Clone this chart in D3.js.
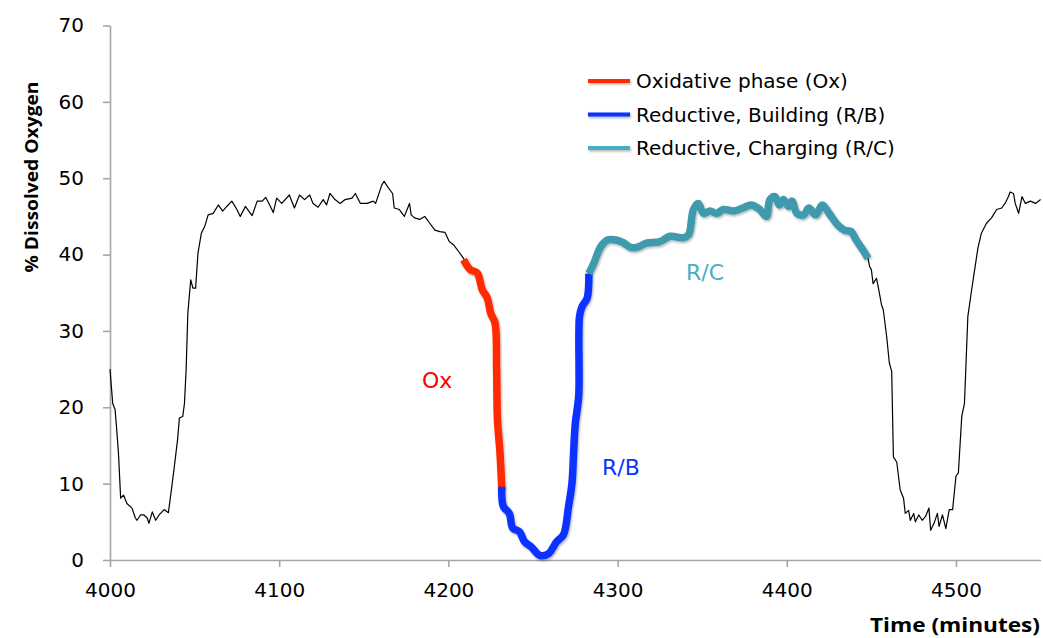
<!DOCTYPE html>
<html>
<head>
<meta charset="utf-8">
<script src="https://cdn.jsdelivr.net/npm/d3@7"></script>
<style>
  html, body { margin: 0; padding: 0; background: #ffffff; }
  svg { display: block; }
</style>
</head>
<body>
<div id="chart"></div>
<script>
// Dissolved oxygen trace over one metabolic cycle (minutes)
const timeMin = [
  4000, 4001.6, 4003, 4004, 4005, 4006.3, 4008, 4010, 4013, 4015, 4016, 4018, 4020, 4022, 4023, 4025, 4027, 4029, 4032, 4034.5,
  4036, 4038, 4040, 4041, 4043, 4044, 4045, 4046, 4047.7, 4049, 4050.6, 4052, 4054, 4056, 4058, 4061, 4064, 4066.6, 4069, 4072,
  4075, 4077, 4080, 4084, 4087, 4090, 4092, 4094.6, 4096.5, 4098.5, 4101.5, 4106, 4109, 4112, 4115, 4118, 4120, 4123, 4126, 4128,
  4130, 4133, 4136, 4139, 4143, 4145, 4148, 4152, 4155.6, 4157, 4160.6, 4162, 4164, 4167, 4168, 4171, 4174, 4177, 4178, 4180,
  4183, 4186, 4189, 4192, 4195, 4198, 4200.5, 4203, 4206, 4209,
  4210, 4213, 4217, 4220, 4223, 4225, 4227.5, 4228.5, 4229, 4230.5, 4231.5,
  4232.5, 4236, 4238, 4242, 4245, 4249, 4254, 4259, 4264, 4268, 4271, 4273, 4274, 4275, 4277, 4277.5, 4279, 4282, 4283,
  4286, 4290, 4294, 4299, 4303, 4308, 4312, 4317, 4325, 4331, 4339, 4342, 4344.8, 4347.7, 4350.7, 4354.6, 4358.6, 4362.5, 4368.5, 4374,
  4379, 4384, 4388, 4390, 4393, 4395.6, 4398, 4401, 4403, 4406, 4410, 4413, 4417, 4421, 4425, 4430, 4434, 4438, 4441, 4445, 4448,
  4449, 4450, 4451, 4453, 4454, 4456, 4457, 4459, 4460.6, 4462, 4463, 4465, 4467, 4469, 4470, 4472, 4473, 4475, 4476, 4478,
  4480, 4482, 4484, 4485, 4487, 4489, 4490, 4492, 4494, 4496, 4498, 4500, 4501.4, 4503.4, 4505, 4507, 4509, 4511, 4513, 4515,
  4518, 4521, 4524, 4527, 4529, 4531, 4532, 4534, 4535, 4537, 4539, 4541, 4544, 4547, 4550
];
const dissolvedO2 = [
  25.0, 20.5, 19.7, 17.0, 14.0, 8.1, 8.5, 7.4, 6.8, 5.5, 5.2, 5.9, 5.9, 5.5, 4.8, 6.3, 5.2, 5.9, 6.6, 6.2,
  8.7, 12.2, 15.9, 18.6, 18.8, 20.5, 24.9, 32.3, 36.7, 35.6, 35.6, 40.2, 42.8, 43.7, 45.2, 45.4, 46.5, 45.7, 46.3, 47.0,
  45.9, 45.0, 46.3, 45.1, 47.0, 47.0, 47.5, 46.4, 45.5, 47.4, 46.7, 47.8, 46.1, 47.8, 47.2, 47.8, 46.7, 46.2, 47.2, 46.5,
  48.0, 47.2, 46.7, 47.2, 47.4, 48.0, 46.7, 46.7, 47.0, 46.7, 49.1, 49.6, 48.9, 48.0, 46.1, 45.9, 45.0, 46.7, 45.2, 44.8,
  44.6, 45.0, 44.1, 43.2, 43.0, 42.9, 41.7, 41.3, 40.4, 39.5,
  38.9, 38.0, 37.6, 35.4, 34.3, 32.3, 31.1, 24.9, 18.4, 14.0, 9.6,
  7.0, 6.1, 4.2, 3.7, 2.4, 1.7, 0.6, 0.8, 2.4, 3.3, 7.0, 10.0, 14.0, 17.9, 21.4, 31.9, 33.2, 34.3, 37.5,
  38.9, 41.0, 41.9, 41.9, 41.6, 40.9, 41.0, 41.5, 41.7, 42.4, 42.2, 42.6, 45.9, 46.7, 45.4, 45.7, 45.4, 45.9, 45.7, 46.1,
  46.5, 45.9, 45.0, 47.2, 47.6, 46.5, 47.2, 46.3, 47.0, 45.4, 45.2, 46.1, 45.2, 46.5, 45.4, 43.9, 43.2, 43.0, 41.9, 40.6, 39.5,
  38.4, 38.0, 36.2, 36.9, 35.8, 33.4, 32.8, 29.3, 25.8, 24.7, 13.5, 12.8, 9.2, 8.1, 6.1, 6.5, 5.2, 6.1, 5.0, 5.9,
  5.2, 5.7, 6.8, 3.9, 4.8, 6.1, 4.4, 5.9, 4.1, 6.6, 6.6, 11.0, 11.4, 18.8, 20.5, 31.9, 35.0, 38.0, 40.9, 42.8,
  44.1, 44.8, 45.9, 46.1, 46.7, 47.6, 48.2, 48.0, 46.7, 45.4, 47.6, 46.7, 47.0, 46.7, 47.2
];

// Metabolic phases highlighted on the trace
const phaseNames = ["Oxidative phase (Ox)", "Reductive, Building (R/B)", "Reductive, Charging (R/C)"];
const phaseCodes = ["Ox", "R/B", "R/C"];
const phaseStart = [4210, 4231.5, 4283];
const phaseEnd = [4231.5, 4283, 4448];

const xTicks = [4000, 4100, 4200, 4300, 4400, 4500];
const yTicks = [0, 10, 20, 30, 40, 50, 60, 70];

// Styling
const W = 1043, H = 638;
const phaseColors = ["#ff2a00", "#0a33ff", "#3f9aae"];
const legendColors = ["#ff2a00", "#0a33ff", "#4bacc6"];
const codeColors = ["#ff0000", "#0a33ff", "#4bacc6"];
const axisColor = "#a6a6a6";
const tickFont = "'DejaVu Sans', Verdana, sans-serif";
const titleFont = "'Open Sans', 'Noto Sans', sans-serif";

const x = d3.scaleLinear().domain([4000, 4550]).range([110, 1040.6]);
const y = d3.scaleLinear().domain([0, 70]).range([560, 25.5]);

const svg = d3.select("#chart").append("svg")
  .attr("width", W).attr("height", H)
  .attr("viewBox", `0 0 ${W} ${H}`);

svg.append("rect").attr("width", W).attr("height", H).attr("fill", "#ffffff");

// Soft shadow under the highlighted strokes (user-space region so flat lines keep it)
const defs = svg.append("defs");
const shadow = defs.append("filter").attr("id", "soft-shadow")
  .attr("filterUnits", "userSpaceOnUse")
  .attr("x", 0).attr("y", 0).attr("width", W).attr("height", H);
shadow.append("feDropShadow")
  .attr("dx", 1).attr("dy", 1.5).attr("stdDeviation", 1.2)
  .attr("flood-color", "#000").attr("flood-opacity", 0.3);

// Axes
const yAxis = d3.axisLeft(y).tickValues(yTicks).tickSize(7).tickSizeOuter(0).tickPadding(19);
const xAxis = d3.axisBottom(x).tickValues(xTicks).tickFormat(d3.format("d")).tickSize(7).tickSizeOuter(0).tickPadding(16);

const gy = svg.append("g").attr("transform", `translate(${x(4000)},0)`).call(yAxis);
const gx = svg.append("g").attr("transform", `translate(0,${y(0)})`).call(xAxis);

[gx, gy].forEach(g => {
  g.select(".domain").attr("stroke", axisColor).attr("stroke-width", 1.6);
  g.selectAll(".tick line").attr("stroke", axisColor).attr("stroke-width", 1.6);
  g.selectAll(".tick text")
    .attr("fill", "#000")
    .style("font-family", tickFont)
    .style("font-size", "20px");
});

// Data series
const points = timeMin.map((t, i) => ({ t, v: dissolvedO2[i] }));
const line = d3.line().x(d => x(d.t)).y(d => y(d.v)).curve(d3.curveLinear);

svg.append("path")
  .datum(points)
  .attr("fill", "none")
  .attr("stroke", "#000")
  .attr("stroke-width", 1.2)
  .attr("stroke-linejoin", "round")
  .attr("d", line);

const phaseLayer = svg.append("g").attr("filter", "url(#soft-shadow)");
phaseNames.forEach((name, i) => {
  const seg = points.filter(d => d.t >= phaseStart[i] && d.t <= phaseEnd[i]);
  phaseLayer.append("path")
    .datum(seg)
    .attr("fill", "none")
    .attr("stroke", phaseColors[i])
    .attr("stroke-width", 7.5)
    .attr("stroke-linejoin", "round")
    .attr("stroke-linecap", i === 0 ? "square" : "butt")
    .attr("d", d3.line().x(d => x(d.t)).y(d => y(d.v)).curve(d3.curveCatmullRom.alpha(0.5)));
});

// Phase codes beside the curve
const codeAnchors = [[4184.4, 22.5], [4290.8, 11.1], [4340.4, 36.7]];
phaseCodes.forEach((code, i) => {
  svg.append("text")
    .attr("x", x(codeAnchors[i][0]))
    .attr("y", y(codeAnchors[i][1]))
    .attr("fill", codeColors[i])
    .style("font-family", tickFont)
    .style("font-size", "22px")
    .text(code);
});

// Legend
const legendRows = [81, 114.5, 148];
const legend = svg.append("g");
phaseNames.forEach((name, i) => {
  legend.append("line")
    .attr("x1", 588).attr("x2", 630)
    .attr("y1", legendRows[i]).attr("y2", legendRows[i])
    .attr("stroke", legendColors[i])
    .attr("stroke-width", 4)
    .attr("filter", "url(#soft-shadow)");
  legend.append("text")
    .attr("x", 636)
    .attr("y", legendRows[i] + 7)
    .attr("fill", "#000")
    .style("font-family", tickFont)
    .style("font-size", "20px")
    .text(name);
});

// Axis titles
svg.append("text")
  .attr("transform", `translate(38,${177}) rotate(-90)`)
  .attr("text-anchor", "middle")
  .attr("textLength", 191)
  .attr("lengthAdjust", "spacingAndGlyphs")
  .style("font-family", titleFont)
  .style("font-weight", "bold")
  .style("font-size", "18px")
  .attr("fill", "#000")
  .text("% Dissolved Oxygen");

svg.append("text")
  .attr("x", 870)
  .attr("y", 632)
  .attr("textLength", 170)
  .attr("lengthAdjust", "spacingAndGlyphs")
  .style("font-family", titleFont)
  .style("font-weight", "bold")
  .style("font-size", "19px")
  .attr("fill", "#000")
  .text("Time (minutes)");
</script>
</body>
</html>
